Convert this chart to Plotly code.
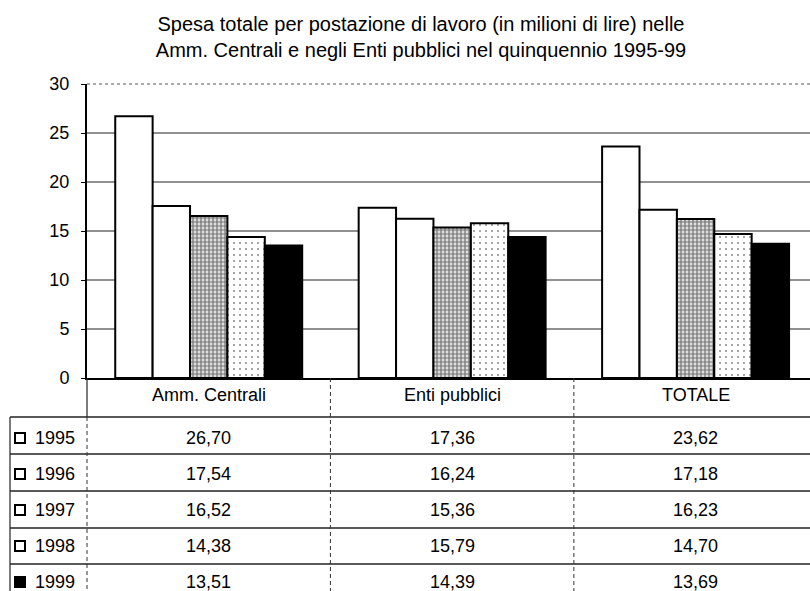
import plotly.graph_objects as go

# ---- data ----
categories = ["Amm. Centrali", "Enti pubblici", "TOTALE"]
years = ["1995", "1996", "1997", "1998", "1999"]
v1995 = [26.70, 17.36, 23.62]
v1996 = [17.54, 16.24, 17.18]
v1997 = [16.52, 15.36, 16.23]
v1998 = [14.38, 15.79, 14.70]
v1999 = [13.51, 14.39, 13.69]
series = [v1995, v1996, v1997, v1998, v1999]
yticks = [0, 5, 10, 15, 20, 25, 30]

# ---- styles ----
styles = [
    dict(color="white"),
    dict(color="white"),
    dict(color="white", pattern=dict(shape=".", fgcolor="#111", bgcolor="white", size=4, solidity=0.7)),
    dict(color="white", pattern=dict(shape=".", fgcolor="#222", bgcolor="white", size=6, solidity=0.1)),
    dict(color="black"),
]

W, H = 810, 591
L, T, B = 87, 84, 213
PW = W - L
PH = H - T - B


def px(x):
    return (x - L) / PW


def py(y):
    return (H - B - y) / PH


fig = go.Figure()
for yr, vals, st in zip(years, series, styles):
    marker = dict(line=dict(color="black", width=2), **st)
    fig.add_trace(go.Bar(x=categories, y=vals, name=yr, marker=marker))

FONT = "Liberation Sans, Arial, sans-serif"

shapes = []
# gridlines
for t in yticks[1:-1]:
    shapes.append(dict(type="line", xref="paper", yref="y", x0=0, x1=1, y0=t, y1=t,
                       line=dict(color="#222", width=1.2), layer="below"))
shapes.append(dict(type="line", xref="paper", yref="paper", x0=0, x1=1, y0=1, y1=1,
                   line=dict(color="#555", width=1, dash="dot"), layer="below"))

# table horizontal lines
row_lines = [417, 454, 491, 528, 564]
for yl in row_lines:
    shapes.append(dict(type="line", xref="paper", yref="paper", x0=px(10), x1=1,
                       y0=py(yl), y1=py(yl), line=dict(color="#222", width=1.4)))
# table vertical lines
shapes.append(dict(type="line", xref="paper", yref="paper", x0=px(10), x1=px(10),
                   y0=py(417), y1=py(H), line=dict(color="#222", width=1.2)))
shapes.append(dict(type="line", xref="paper", yref="paper", x0=0, x1=0,
                   y0=0, y1=py(417), line=dict(color="#222", width=1.2)))
shapes.append(dict(type="line", xref="paper", yref="paper", x0=0, x1=0,
                   y0=py(417), y1=py(H), line=dict(color="#333", width=1, dash="4px,3px")))
for sep in [0.5, 1.5]:
    shapes.append(dict(type="line", xref="x", yref="paper", x0=sep, x1=sep,
                       y0=0, y1=py(H), line=dict(color="#333", width=1, dash="4px,3px")))

row_centers = [438, 474, 510, 546, 582]
annotations = []
# header
for c in categories:
    annotations.append(dict(x=c, xref="x", y=py(395), yref="paper", text=c, showarrow=False,
                            xanchor="center", yanchor="middle",
                            font=dict(family=FONT, size=18, color="black")))
# legend column + values
for i, (yr, vals) in enumerate(zip(years, series)):
    yc = row_centers[i]
    filled = (i == 4)
    shapes.append(dict(type="rect", xref="paper", yref="paper", x0=px(15), x1=px(25),
                       y0=py(yc + 5), y1=py(yc - 5),
                       line=dict(color="black", width=2),
                       fillcolor="black" if filled else "white"))
    annotations.append(dict(x=px(33), xref="paper", y=py(yc), yref="paper", text=yr,
                            showarrow=False, xanchor="left", yanchor="middle",
                            font=dict(family=FONT, size=18, color="black")))
    for c, v in zip(categories, vals):
        annotations.append(dict(x=c, xref="x", y=py(yc), yref="paper",
                                text=f"{v:.2f}".replace(".", ","), showarrow=False,
                                xanchor="center", yanchor="middle",
                                font=dict(family=FONT, size=18, color="black")))

fig.update_layout(
    width=W, height=H,
    margin=dict(l=L, r=0, t=T, b=B, pad=0),
    paper_bgcolor="white", plot_bgcolor="white",
    barmode="group", bargap=0.232, bargroupgap=0,
    showlegend=False,
    title=dict(text="Spesa totale per postazione di lavoro (in milioni di lire) nelle<br>"
                    "Amm. Centrali e negli Enti pubblici nel quinquennio 1995-99",
               x=421 / W, xanchor="center", xref="container",
               y=1 - 31 / H, yanchor="middle", yref="container",
               font=dict(family=FONT, size=20, color="black")),
    xaxis=dict(type="category", range=[-0.5, 2.47], showticklabels=False,
               showline=True, linecolor="black", linewidth=2, ticks="",
               showgrid=False, zeroline=False),
    yaxis=dict(range=[0, 30], tickvals=yticks, showgrid=False, zeroline=False,
               showline=True, linecolor="black", linewidth=2,
               ticks="outside", ticklen=4, tickcolor="black", ticklabelstandoff=8,
               tickfont=dict(family=FONT, size=18, color="black")),
    shapes=shapes,
    annotations=annotations,
)

fig.write_html(
    "out.html",
    config={"displayModeBar": False},
    post_script="document.body.style.margin='0px';document.body.style.overflow='hidden';",
)
